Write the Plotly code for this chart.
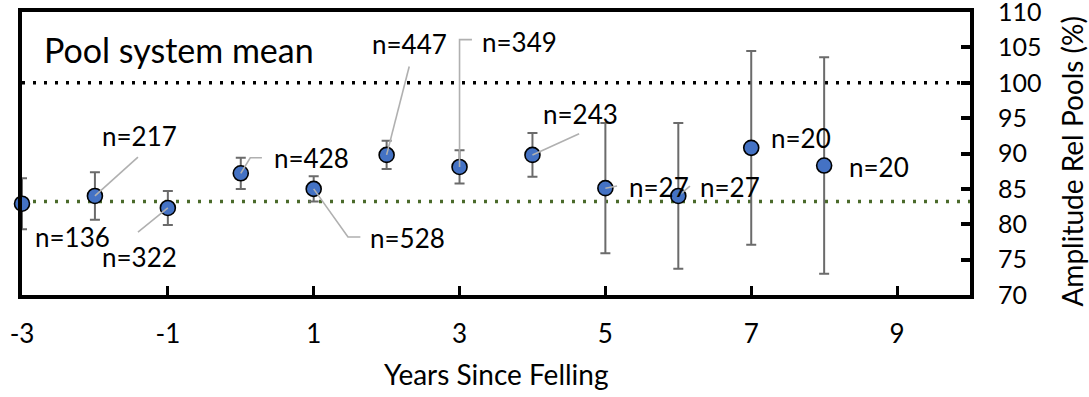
import plotly.graph_objects as go

# ---- data ----
years = [-3, -2, -1, 0, 1, 2, 3, 4, 5, 6, 7, 8]
amplitude = [82.9, 84.0, 82.3, 87.2, 85.0, 89.8, 88.1, 89.8, 85.1, 84.0, 90.8, 88.3]
err = [3.6, 3.35, 2.4, 2.2, 1.8, 2.0, 2.35, 3.1, 9.2, 10.3, 13.7, 15.3]
n_labels = ["n=136", "n=217", "n=322", "n=428", "n=528", "n=447", "n=349",
            "n=243", "n=27", "n=27", "n=20", "n=20"]
label_x = [-2.85, -1.93, -1.93, 0.43, 1.75, 1.77, 3.28, 4.12, 5.29, 6.27, 7.25, 8.32]
label_y = [78.2, 92.5, 75.4, 89.3, 78.1, 105.5, 105.8, 95.6, 85.2, 85.2, 92.2, 88.1]
# leader lines: list of (xs, ys) from point to label
leaders = [
    ([-2, -1.41], [84.0, 89.5]),
    ([-1, -1.41], [82.3, 78.9]),
    ([0, 0.13, 0.29], [87.2, 89.4, 89.4]),
    ([1, 1.47, 1.64], [85.0, 78.2, 78.2]),
    ([2, 2.31], [89.8, 102.3]),
    ([3, 3, 3.17], [88.1, 106.1, 106.1]),
    ([4, 4.64], [89.8, 92.8]),
    ([5, 5.16], [85.1, 85.4]),
    ([6, 6.16], [84.0, 85.4]),
]
x_tickvals = [-3, -1, 1, 3, 5, 7, 9]
x_ticktext = ["-3", "-1", "1", "3", "5", "7", "9"]
reference_level = 100
pool_mean = 83.2
x_range = [-3, 10]
y_range = [70, 110]

FONT = "Lato"

fig = go.Figure()

# reference lines
fig.add_trace(go.Scatter(x=x_range, y=[reference_level] * 2, mode="lines",
                         line=dict(color="black", width=3.5, dash="3px,8px"),
                         hoverinfo="skip", showlegend=False))
fig.add_trace(go.Scatter(x=x_range, y=[pool_mean] * 2, mode="lines",
                         line=dict(color="#4a6a2a", width=3.5, dash="3px,8px"),
                         hoverinfo="skip", showlegend=False))

# points with error bars
fig.add_trace(go.Scatter(
    x=years, y=amplitude, mode="markers",
    marker=dict(size=15, color="#4472c4", line=dict(color="black", width=1.6)),
    error_y=dict(type="data", array=err, visible=True, color="#6b6b6b",
                 thickness=2, width=5),
    cliponaxis=False, showlegend=False))

# leader lines
for xs, ys in leaders:
    fig.add_trace(go.Scatter(x=xs, y=ys, mode="lines",
                             line=dict(color="#b0b0b0", width=1.6),
                             hoverinfo="skip", showlegend=False, cliponaxis=False))

annotations = []
for t, lx, ly in zip(n_labels, label_x, label_y):
    annotations.append(dict(x=lx, y=ly, text=t, showarrow=False, xanchor="left",
                            yanchor="middle", font=dict(family=FONT, size=26, color="black")))
annotations.append(dict(x=-2.73, y=104.7, text="Pool system mean", showarrow=False,
                        xanchor="left", yanchor="middle",
                        font=dict(family=FONT, size=34, color="black")))
annotations.append(dict(x=1.108, y=0.473, xref="paper", yref="paper",
                        text="Amplitude Rel Pools (%)", showarrow=False, textangle=-90,
                        xanchor="center", yanchor="middle",
                        font=dict(family=FONT, size=28, color="black")))
annotations.append(dict(x=0.5, y=-0.28, xref="paper", yref="paper",
                        text="Years Since Felling", showarrow=False,
                        xanchor="center", yanchor="middle",
                        font=dict(family=FONT, size=28, color="black")))

fig.update_layout(
    width=1089, height=397,
    margin=dict(l=22, r=119, t=12, b=102),
    plot_bgcolor="white", paper_bgcolor="white",
    font=dict(family=FONT, size=24, color="black"),
    xaxis=dict(range=x_range, tickvals=x_tickvals, ticktext=x_ticktext, ticks="inside",
               ticklen=9, tickwidth=3, automargin=False,
               tickcolor="black", showline=True, linewidth=4, linecolor="black", mirror=True,
               showgrid=False, zeroline=False, ticklabelstandoff=13,
               ticklabeloverflow="allow",
               tickfont=dict(family=FONT, size=26)),
    yaxis=dict(range=y_range, side="right", tick0=70, dtick=5, ticks="inside", ticklen=9,
               tickwidth=4, tickcolor="black", showline=True, linewidth=4, linecolor="black",
               mirror=True, showgrid=False, zeroline=False, ticklabelstandoff=19,
               automargin=False, ticklabeloverflow="allow",
               tickfont=dict(family=FONT, size=25)),
    annotations=annotations,
)

fig.write_html("out.html", config={"displayModeBar": False},
               post_script="document.body.style.margin='0';")
